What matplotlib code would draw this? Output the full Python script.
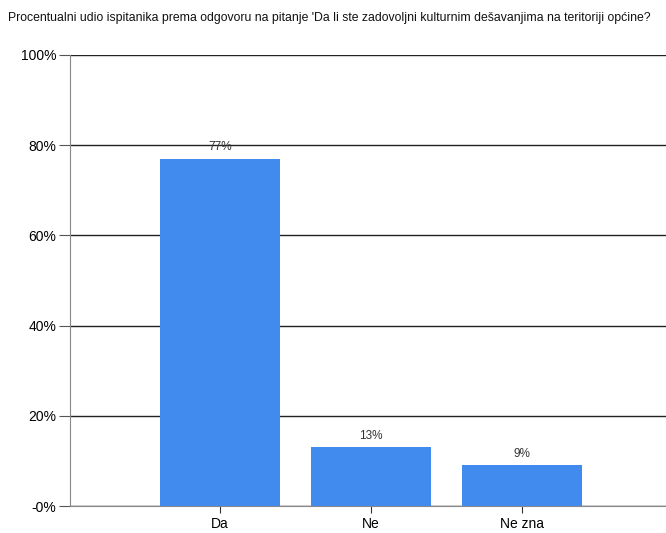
import matplotlib
matplotlib.use("Agg")
import matplotlib.pyplot as plt
from matplotlib.ticker import FixedLocator

categories = ["Da", "Ne", "Ne zna"]
values = [77, 13, 9]
value_labels = ["77%", "13%", "9%"]
yticks = [0, 20, 40, 60, 80, 100]
ytick_labels = ["-0%", "20%", "40%", "60%", "80%", "100%"]
title = "Procentualni udio ispitanika prema odgovoru na pitanje 'Da li ste zadovoljni kulturnim dešavanjima na teritoriji općine?"

plt.rcParams['font.family'] = ['Liberation Sans', 'DejaVu Sans']

fig = plt.figure(figsize=(6.66, 5.33), dpi=100)
ax = fig.add_axes([70/666, 1-506/533, 600/666, (506-55)/533])

x = list(range(len(categories)))
bars = ax.bar(x, values, width=0.8, color="#418AEE", zorder=3)
for xi, v, lab in zip(x, values, value_labels):
    ax.text(xi, v + 1.2, lab, ha="center", va="bottom", fontsize=8.5, color="#333333", zorder=4)

ax.set_xlim(-0.993, 2.98)
ax.set_ylim(0, 100)
ax.yaxis.set_major_locator(FixedLocator(yticks))
ax.set_yticklabels(ytick_labels, fontsize=10)
ax.set_xticks(x)
ax.set_xticklabels(categories, fontsize=10)
ax.grid(axis="y", color="#222222", linewidth=1.0, zorder=1)
for s in ["top", "right"]:
    ax.spines[s].set_visible(False)
ax.spines["left"].set_color("#888888")
ax.spines["bottom"].set_color("#888888")
ax.tick_params(axis="y", length=8, color="#555555", pad=2)
ax.tick_params(axis="x", length=5, color="#333333", pad=3)

fig.text(8/666, 1-18/533, title, fontsize=8.85, ha="left", va="center", color="#111111")

fig.savefig("out.png", dpi=100)
